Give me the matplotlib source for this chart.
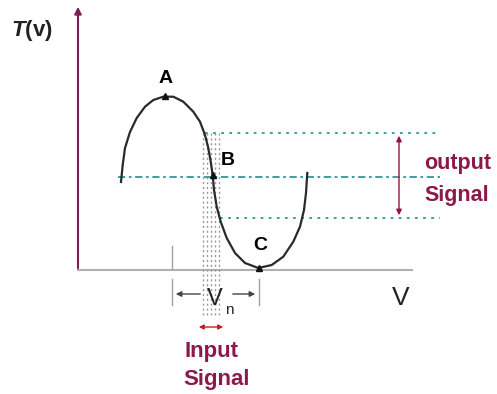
import matplotlib.pyplot as plt

plt.rcParams['mathtext.fontset'] = 'custom'
plt.rcParams['mathtext.it'] = 'Liberation Sans:italic:bold'

# curve points (pixel coords, y down)
curve_x = [121, 122.7, 125, 130, 136.7, 145, 153.3, 163.3, 173.3, 183.3, 193.3, 200, 205,
           208.3, 210.7, 212.7, 214, 216.7, 220.7, 226.7, 235, 245, 258.3, 271.7, 283.3,
           293.3, 300, 304, 306, 307.3]
curve_y = [182, 165, 148, 132, 118, 106.7, 100, 96.7, 96.7, 101.7, 111.7, 121.7, 135,
           148, 161.7, 175, 190, 206.7, 221.7, 238, 253, 263, 268, 265, 256.7,
           241.7, 226.7, 210, 193, 173]

pt_names = ['A', 'B', 'C']
pt_x = [165, 212.7, 258.5]
pt_y = [96, 175, 268]

level_top, level_mid, level_bot = 133, 177, 218
probe_x = [203, 207, 211, 215, 219]

axis_col = '#7b2150'
sig_col = '#8b1a4a'
teal = '#2a9a9a'
font = 'Liberation Sans'

fig = plt.figure(figsize=(4.97, 3.94), dpi=100)
ax = fig.add_axes([0, 0, 1, 1])
ax.set_xlim(0, 497)
ax.set_ylim(394, 0)
ax.axis('off')

# axes of the diagram
ax.annotate('', xy=(78, 4), xytext=(78, 271),
            arrowprops=dict(arrowstyle='-|>', color=axis_col, lw=1.5, mutation_scale=10))
ax.plot([78, 412], [270, 270], color='#b0b0b0', lw=1.5)
ax.text(11, 30, '$T$(v)', fontsize=16, fontweight='bold', va='center', ha='left',
        color='#222222', family=font)
ax.text(401, 298, 'V', fontsize=19, va='center', ha='center', color='#222222', family=font)

# guide lines
for px in probe_x:
    ax.plot([px, px], [level_top, 315], color='#9a9a9a', lw=1, ls=(0, (1.5, 2)))
ax.plot([205, 440], [level_top, level_top], color=teal, lw=1.3, ls=(0, (1.5, 3)))
ax.plot([118, 440], [level_mid, level_mid], color=teal, lw=1.3, ls=(0, (4, 2, 1.5, 2)))
ax.plot([220, 440], [level_bot, level_bot], color=teal, lw=1.3, ls=(0, (1.5, 3)))

# curve
ax.plot(curve_x, curve_y, color='#2a2a2a', lw=1.6, solid_joinstyle='round')
ax.plot(pt_x, pt_y, ls='none', marker='^', ms=4, color='#111111')
ax.text(166, 78, pt_names[0], fontsize=14, fontweight='bold', ha='center', va='center', family=font)
ax.text(228, 160, pt_names[1], fontsize=14, fontweight='bold', ha='center', va='center', family=font)
ax.text(260, 245, pt_names[2], fontsize=14, fontweight='bold', ha='center', va='center', family=font)

# tick marks
ax.plot([172, 172], [246, 269], color='#a0a0a0', lw=1)
ax.plot([172, 172], [279, 305], color='#a0a0a0', lw=1)
ax.plot([259, 259], [279, 305], color='#a0a0a0', lw=1)

# Vn span
ax.annotate('', xy=(173, 294), xytext=(203, 294),
            arrowprops=dict(arrowstyle='-|>', color='#444444', lw=1, mutation_scale=8))
ax.annotate('', xy=(258, 294), xytext=(230, 294),
            arrowprops=dict(arrowstyle='-|>', color='#444444', lw=1, mutation_scale=8))
ax.text(215, 299, 'V', fontsize=17, ha='center', va='center', color='#222222', family=font)
ax.text(229, 310, 'n', fontsize=11, ha='center', va='center', color='#222222', family=font)

# output signal
ax.annotate('', xy=(399, level_top), xytext=(399, level_bot),
            arrowprops=dict(arrowstyle='<|-|>', color=sig_col, lw=1, mutation_scale=8))
ax.text(424, 163, 'output', fontsize=15.5, fontweight='bold', color=sig_col, va='center', family=font)
ax.text(424, 195, 'Signal', fontsize=15.5, fontweight='bold', color=sig_col, va='center', family=font)

# input signal
ax.annotate('', xy=(196, 327), xytext=(226, 327),
            arrowprops=dict(arrowstyle='<|-|>', color='#c02020', lw=1, mutation_scale=7))
ax.text(211, 351, 'Input', fontsize=16, fontweight='bold', color=sig_col, ha='center', va='center', family=font)
ax.text(217, 379, 'Signal', fontsize=16, fontweight='bold', color=sig_col, ha='center', va='center', family=font)

fig.savefig('out.png', dpi=100)
